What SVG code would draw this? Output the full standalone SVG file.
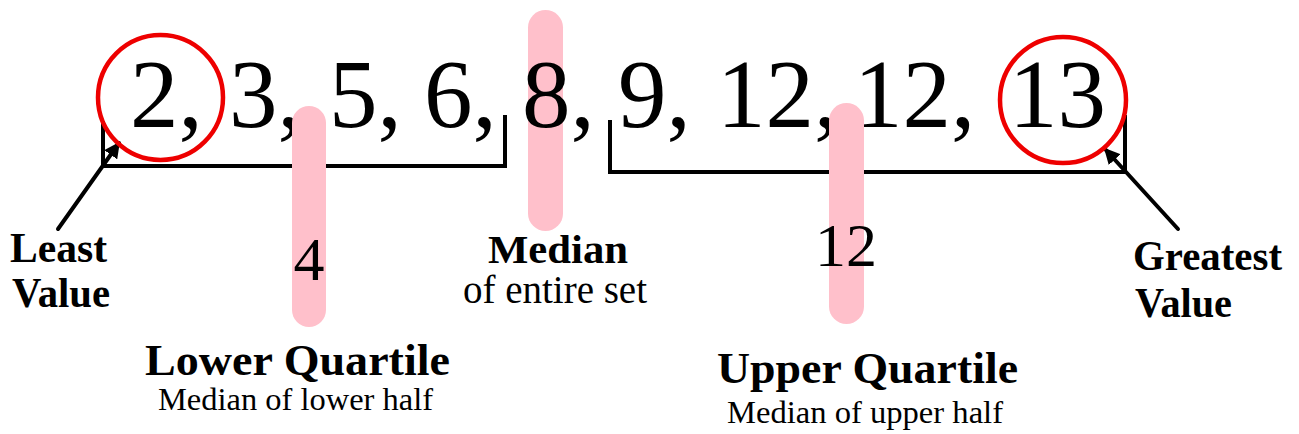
<svg xmlns="http://www.w3.org/2000/svg" width="1299" height="434" viewBox="0 0 1299 434">
<style>
text{fill:#000}
.num{font-size:97px}
.sub{font-size:62px;text-anchor:middle}
.bold{font-weight:bold}
.bar{fill:#FFC0CB}
.circ{fill:none;stroke:#EE0000;stroke-width:4.5}
.line{fill:none;stroke:#000;stroke-width:4;stroke-linecap:square}
.arr{fill:none;stroke:#000;stroke-width:4;stroke-linecap:round}
</style>
<defs>
<marker id="ah" viewBox="0 0 10 10" refX="9" refY="5" markerWidth="4" markerHeight="4" orient="auto" markerUnits="strokeWidth">
<path d="M0,0 L10,5 L0,10 Z" fill="#000"/>
</marker>
</defs>
<rect class="bar" id="median-bar" x="528" y="10" width="35" height="221" rx="17.5"/>
<g id="numbers" font-family="Liberation Serif">
<text class="num" x="130" y="127">2,</text>
<text class="num" x="229" y="127">3,</text>
<text class="num" x="329" y="127">5,</text>
<text class="num" x="424" y="127">6,</text>
<text class="num" x="522" y="127">8,</text>
<text class="num" x="618" y="127">9,</text>
<text class="num" x="717" y="127">12,</text>
<text class="num" x="854" y="127">12,</text>
<text class="num" x="1009" y="127">13</text>
</g>
<g id="connectors">
<polyline class="line" points="103,123 103,166 505,166 505,117"/>
<polyline class="line" points="610,122 610,172 1125,172 1125,117"/>
<line class="arr" x1="58" y1="229" x2="119" y2="143" marker-end="url(#ah)"/>
<line class="arr" x1="1178" y1="229" x2="1105" y2="149" marker-end="url(#ah)"/>
</g>
<g id="lower-quartile" font-family="Times New Roman">
<rect class="bar" x="292" y="106" width="34" height="221" rx="17"/>
<text class="sub" x="309" y="280">4</text>
<text class="bold" x="297.5" y="375" font-size="44" text-anchor="middle" textLength="305" lengthAdjust="spacingAndGlyphs">Lower Quartile</text>
<text x="295.5" y="410" font-size="32" text-anchor="middle" textLength="275" lengthAdjust="spacingAndGlyphs">Median of lower half</text>
</g>
<g id="upper-quartile" font-family="'Liberation Serif', serif">
<rect class="bar" x="829" y="103" width="35" height="221" rx="17.5"/>
<text class="sub" x="846" y="266">12</text>
<text class="bold" x="867.5" y="383" font-size="44" text-anchor="middle" textLength="301" lengthAdjust="spacingAndGlyphs">Upper Quartile</text>
<text x="865" y="423" font-size="32" text-anchor="middle" textLength="276" lengthAdjust="spacingAndGlyphs">Median of upper half</text>
</g>
<g id="median" font-family="Liberation Serif, serif">
<text class="bold" x="558" y="263" font-size="41" text-anchor="middle" textLength="140" lengthAdjust="spacingAndGlyphs">Median</text>
<text x="555" y="303" font-size="41" text-anchor="middle" textLength="184" lengthAdjust="spacingAndGlyphs">of entire set</text>
</g>
<g id="least" font-family="Liberation Serif, serif">
<circle class="circ" cx="160.5" cy="97.5" r="62.5"/>
<text class="bold" x="10" y="262" font-size="42" textLength="97" lengthAdjust="spacingAndGlyphs">Least</text>
<text class="bold" x="12" y="307" font-size="42" textLength="98" lengthAdjust="spacingAndGlyphs">Value</text>
</g>
<g id="greatest" font-family="Liberation Serif, serif">
<circle class="circ" cx="1063" cy="100" r="63"/>
<text class="bold" x="1133" y="270" font-size="42" textLength="149" lengthAdjust="spacingAndGlyphs">Greatest</text>
<text class="bold" x="1135" y="317" font-size="42" textLength="97" lengthAdjust="spacingAndGlyphs">Value</text>
</g>
</svg>
